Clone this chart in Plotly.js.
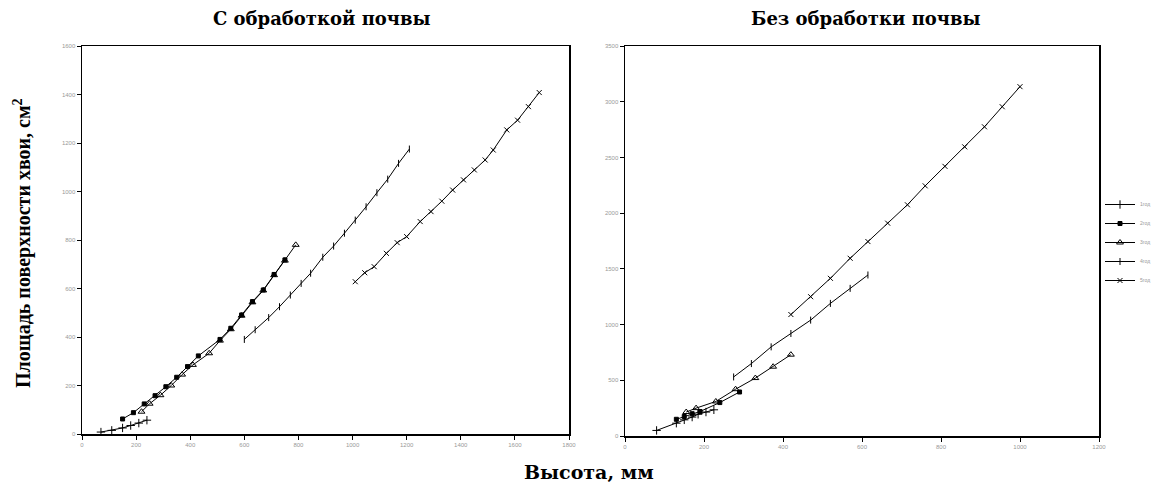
<!DOCTYPE html>
<html>
<head>
<meta charset="utf-8">
<script src="https://cdn.plot.ly/plotly-3.0.1.min.js"></script>
<style>html,body{margin:0;padding:0;background:#fff;}#chart{width:1158px;height:491px;}</style>
</head>
<body>
<div id="chart"></div>
<script>
// ---- Data: left panel "С обработкой почвы" ----
var seriesNames = ["1год", "2год", "3год", "4год", "5год"];

var L1x = [70, 110, 150, 180, 210, 240];
var L1y = [8, 15, 25, 35, 45, 57];
var L2x = [150, 190, 230, 270, 310, 350, 390, 430, 510, 550, 590, 630, 670, 710, 750];
var L2y = [62, 88, 124, 158, 195, 234, 278, 322, 390, 436, 491, 546, 594, 658, 718];
var L3x = [220, 250, 290, 330, 370, 410, 470, 510, 550, 590, 630, 670, 710, 750, 790];
var L3y = [92, 125, 160, 200, 245, 285, 333, 385, 432, 488, 543, 592, 655, 715, 780];
var L4x = [600, 640, 690, 730, 770, 810, 845, 890, 930, 970, 1010, 1050, 1090, 1130, 1170, 1210];
var L4y = [390, 430, 480, 525, 573, 621, 663, 729, 775, 828, 882, 937, 995, 1051, 1116, 1175];
var L5x = [1010, 1045, 1080, 1125, 1165, 1200, 1250, 1290, 1330, 1370, 1410, 1450, 1490, 1520, 1570, 1610, 1650, 1690];
var L5y = [628, 665, 690, 745, 789, 814, 876, 917, 960, 1006, 1048, 1089, 1130, 1171, 1254, 1294, 1350, 1408];

// ---- Data: right panel "Без обработки почвы" ----
var R1x = [80, 130, 150, 170, 185, 205, 225];
var R1y = [50, 115, 145, 170, 195, 215, 235];
var R2x = [130, 150, 170, 190, 240, 290];
var R2y = [150, 175, 200, 220, 300, 395];
var R3x = [155, 180, 230, 280, 330, 375, 420];
var R3y = [215, 250, 310, 420, 520, 622, 730];
var R4x = [275, 320, 370, 420, 470, 520, 570, 615];
var R4y = [530, 650, 800, 920, 1040, 1190, 1325, 1445];
var R5x = [420, 470, 520, 570, 615, 665, 715, 760, 810, 860, 910, 955, 1000];
var R5y = [1090, 1250, 1415, 1595, 1745, 1910, 2075, 2245, 2420, 2595, 2775, 2955, 3135];

var symbols = ["cross-thin-open", "square", "triangle-up-open", "line-ns-open", "x-thin-open"];
var sizes = [6, 4, 6, 5, 5];

var leftX = [L1x, L2x, L3x, L4x, L5x], leftY = [L1y, L2y, L3y, L4y, L5y];
var rightX = [R1x, R2x, R3x, R4x, R5x], rightY = [R1y, R2y, R3y, R4y, R5y];

var traces = [];
for (var i = 0; i < 5; i++) {
  traces.push({
    x: leftX[i], y: leftY[i], xaxis: 'x', yaxis: 'y', type: 'scatter', mode: 'lines+markers',
    name: seriesNames[i], legendgroup: seriesNames[i], showlegend: true,
    line: {color: '#000', width: 1},
    marker: {symbol: symbols[i], size: sizes[i], color: '#000', line: {color: '#000', width: 1}}
  });
}
for (var j = 0; j < 5; j++) {
  traces.push({
    x: rightX[j], y: rightY[j], xaxis: 'x2', yaxis: 'y2', type: 'scatter', mode: 'lines+markers',
    name: seriesNames[j], legendgroup: seriesNames[j], showlegend: false,
    line: {color: '#000', width: 1},
    marker: {symbol: symbols[j], size: sizes[j], color: '#000', line: {color: '#000', width: 1}}
  });
}

var W = 1158, H = 491;
function axis(dom, range, dtick, anchor) {
  return {
    domain: dom, range: range, dtick: dtick, tick0: 0, anchor: anchor,
    showline: true, linecolor: '#000', linewidth: 1.5, mirror: true,
    ticks: 'outside', ticklen: 4, tickwidth: 1, tickcolor: '#000',
    showgrid: false, zeroline: false,
    tickfont: {family: 'Arial, sans-serif', size: 6, color: '#999'}
  };
}
var serif = 'DejaVu Serif, serif';

var layout = {
  width: W, height: H,
  margin: {l: 0, r: 0, t: 0, b: 0},
  paper_bgcolor: '#fff', plot_bgcolor: '#fff',
  showlegend: true,
  legend: {x: 1100 / W, y: 1 - 190 / H, xanchor: 'left', yanchor: 'top',
           font: {family: 'Arial, sans-serif', size: 5, color: '#999'},
           tracegroupgap: 0, itemwidth: 30, bgcolor: 'rgba(0,0,0,0)'},
  xaxis: axis([82 / W, 569 / W], [0, 1800], 200, 'y'),
  yaxis: axis([1 - 434 / H, 1 - 46 / H], [0, 1600], 200, 'x'),
  xaxis2: axis([625 / W, 1099 / W], [0, 1200], 200, 'y2'),
  yaxis2: axis([1 - 436 / H, 1 - 46 / H], [0, 3500], 500, 'x2'),
  annotations: [
    {text: 'С обработкой почвы', x: 322 / W, y: 1 - 19 / H, xref: 'paper', yref: 'paper',
     xanchor: 'center', yanchor: 'middle',
     showarrow: false, font: {family: serif, size: 18, color: '#000', weight: 'bold'}},
    {text: 'Без обработки почвы', x: 866 / W, y: 1 - 19 / H, xref: 'paper', yref: 'paper',
     xanchor: 'center', yanchor: 'middle',
     showarrow: false, font: {family: serif, size: 18, color: '#000', weight: 'bold'}},
    {text: 'Площадь поверхности хвои, см<sup>2</sup>', x: 22 / W, y: 1 - 243 / H, xref: 'paper', yref: 'paper',
     xanchor: 'center', yanchor: 'middle',
     textangle: -90, showarrow: false,
     font: {family: 'Liberation Serif, Times New Roman, serif', size: 20, color: '#000', weight: 'bold'}},
    {text: 'Высота, мм', x: 589 / W, y: 1 - 472 / H, xref: 'paper', yref: 'paper',
     xanchor: 'center', yanchor: 'middle',
     showarrow: false, font: {family: serif, size: 19, color: '#000', weight: 'bold'}}
  ]
};

Plotly.newPlot('chart', traces, layout, {displayModeBar: false, staticPlot: true});
</script>
</body>
</html>
